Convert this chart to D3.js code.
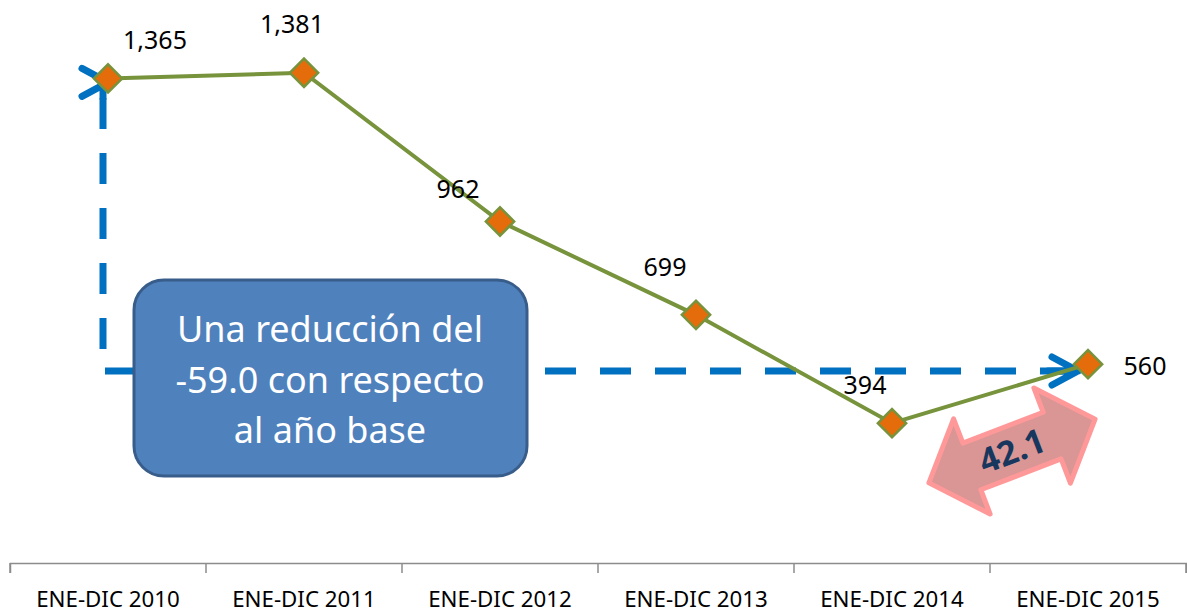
<!DOCTYPE html>
<html>
<head>
<meta charset="utf-8">
<script src="https://cdn.jsdelivr.net/npm/d3@7"></script>
<style>
  body { margin: 0; background: #fff; }
  svg { display: block; font-family: "Noto Sans", sans-serif; }
</style>
</head>
<body>
<svg width="1187" height="614"></svg>
<script>
const periods = ['ENE-DIC 2010', 'ENE-DIC 2011', 'ENE-DIC 2012', 'ENE-DIC 2013', 'ENE-DIC 2014', 'ENE-DIC 2015'];
const values = [1365, 1381, 962, 699, 394, 560];
const noteLines = ['Una reducción del', '-59.0 con respecto', 'al año base'];
const changeLabel = '42.1';

// where each value label sits relative to its point (dx, dy)
const labelShift = [[47, -29], [-12, -40], [-42, -23], [-31, -39], [-27, -29], [57, 11]];

const svg = d3.select('svg');

const x = d3.scaleBand()
    .domain(periods)
    .range([10, 1186]);
const y = d3.scaleLinear()
    .domain([0, 1400])
    .range([563, 66]);
const cx = d => x(d) + x.bandwidth() / 2;

// axis
const axis = svg.append('g')
    .attr('transform', 'translate(0,563)')
    .call(d3.axisBottom(x).tickSizeInner(10).tickSizeOuter(10).tickPadding(18));
axis.select('.domain').attr('stroke', '#8c8c8c').attr('stroke-width', 1.5);
axis.selectAll('.tick line').attr('stroke', '#8c8c8c').attr('stroke-width', 1.5)
    .attr('transform', `translate(${-x.bandwidth() / 2},0)`);
axis.append('line')
    .attr('x1', 1186).attr('x2', 1186).attr('y1', 0).attr('y2', 10)
    .attr('stroke', '#8c8c8c').attr('stroke-width', 1.5);
axis.selectAll('.tick text')
    .attr('font-size', 22.3)
    .attr('font-family', '"Noto Sans", sans-serif')
    .attr('fill', '#000');

// blue dashed elbow arrow
const xa = 103, ya = 371;
const xEnd = cx(periods[5]) - 10;
svg.append('path')
    .attr('d', `M${xa},98 L${xa},${ya} L${xEnd - 6},${ya}`)
    .attr('fill', 'none')
    .attr('stroke', '#0070c0')
    .attr('stroke-width', 7)
    .attr('stroke-dasharray', '31 24')
    .attr('stroke-linejoin', 'round');
const chevron = (tx, ty) => `M${tx - 26},${ty - 14} L${tx},${ty} L${tx - 26},${ty + 14}`;
svg.append('path')
    .attr('d', chevron(108, y(values[0]) + 4) + ` M${xa},${y(values[0]) + 4} L${xa},98`)
    .attr('fill', 'none').attr('stroke', '#0070c0').attr('stroke-width', 7)
    .attr('stroke-linecap', 'round').attr('stroke-linejoin', 'round');
svg.append('path')
    .attr('d', chevron(xEnd, ya) + ` M${xEnd - 30},${ya} L${xEnd},${ya}`)
    .attr('fill', 'none').attr('stroke', '#0070c0').attr('stroke-width', 7)
    .attr('stroke-linecap', 'round').attr('stroke-linejoin', 'round');

// note box
const note = svg.append('g');
note.append('rect')
    .attr('x', 134).attr('y', 280).attr('width', 393).attr('height', 196)
    .attr('rx', 30)
    .attr('fill', '#4f81bd')
    .attr('stroke', '#385d8a')
    .attr('stroke-width', 3);
note.selectAll('text').data(noteLines).enter().append('text')
    .attr('x', 330)
    .attr('y', (d, i) => 342 + i * 50.5)
    .attr('text-anchor', 'middle')
    .attr('font-size', 36)
    .attr('fill', '#fff')
    .text(d => d);

// line series
const line = d3.line()
    .x((d, i) => cx(periods[i]))
    .y(d => y(d));
svg.append('path')
    .datum(values)
    .attr('d', line)
    .attr('fill', 'none')
    .attr('stroke', '#77933c')
    .attr('stroke-width', 4);

svg.selectAll('.marker').data(values).enter().append('path')
    .attr('class', 'marker')
    .attr('d', d3.symbol().type(d3.symbolSquare).size(400))
    .attr('transform', (d, i) => `translate(${cx(periods[i])},${y(d)}) rotate(45)`)
    .attr('fill', '#e46c0a')
    .attr('stroke', '#77933c')
    .attr('stroke-width', 2.5);

svg.selectAll('.val').data(values).enter().append('text')
    .attr('class', 'val')
    .attr('x', (d, i) => cx(periods[i]) + labelShift[i][0])
    .attr('y', (d, i) => y(d) + labelShift[i][1])
    .attr('text-anchor', 'middle')
    .attr('font-size', 25)
    .attr('fill', '#000')
    .text(d => d3.format(',')(d));

// pink double arrow
const L = 89, hl = 46, hw = 51, sw = 25;
const arrowPts = [[-L, 0], [-L + hl, -hw], [-L + hl, -sw], [L - hl, -sw], [L - hl, -hw],
                  [L, 0], [L - hl, hw], [L - hl, sw], [-L + hl, sw], [-L + hl, hw]];
const dbl = svg.append('g').attr('transform', 'translate(1012,451) rotate(-21)');
dbl.append('path')
    .attr('d', d3.line()(arrowPts) + 'Z')
    .attr('fill', '#d99694')
    .attr('stroke', '#ff9999')
    .attr('stroke-width', 5)
    .attr('stroke-linejoin', 'round');
dbl.append('text')
    .attr('x', 0).attr('y', 12)
    .attr('text-anchor', 'middle')
    .attr('font-size', 34)
    .attr('font-weight', 'bold')
    .attr('fill', '#17375e')
    .text(changeLabel);
</script>
</body>
</html>
